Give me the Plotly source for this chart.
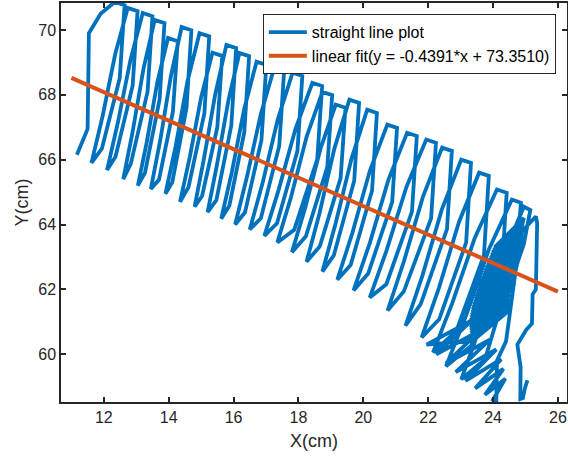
import plotly.graph_objects as go

# ---- path of the drawn "straight line" (cm) ----
# each loop: bottom, up-stroke knees, peak, top-right, down-stroke knees
loops_x = [
    11.17, 11.50, 11.54, 11.90, 12.34, 12.64, 12.49, 11.94,
    11.62, 11.96, 12.35, 12.74, 13.04, 12.89, 12.36,
    12.10, 12.43, 12.82, 13.20, 13.50, 13.35, 12.83,
    12.60, 12.89, 13.23, 13.57, 13.87, 13.72, 13.27,
    13.05, 13.33, 13.65, 13.98, 14.28, 14.13, 13.70,
    13.45, 13.74, 14.07, 14.40, 14.70, 14.55, 14.11,
    13.90, 14.22, 14.58, 14.95, 15.25, 15.10, 14.61,
    14.35, 14.65, 15.00, 15.35, 15.65, 15.50, 15.03,
    14.80, 15.09, 15.44, 15.78, 16.08, 15.93, 15.47,
    15.20, 15.49, 15.84, 16.18, 16.48, 16.33, 15.87,
    15.62, 15.95, 16.33, 16.71, 17.01, 16.86, 16.35,
    16.05, 16.41, 16.84, 17.26, 17.56, 17.41, 16.84,
    16.50, 16.90, 17.36, 17.82, 18.12, 17.97, 17.34,
    16.95, 17.39, 17.91, 18.43, 18.73, 18.58, 17.87,
    17.35, 17.77, 18.25, 18.74, 19.04, 18.89, 18.23,
    17.80, 18.21, 18.68, 19.15, 19.45, 19.30, 18.66,
    18.25, 18.65, 19.11, 19.57, 19.87, 19.72, 19.09,
    18.74, 19.15, 19.64, 20.12, 20.42, 20.27, 19.61,
    19.20, 19.66, 20.20, 20.74, 21.04, 20.89, 20.15,
    19.70, 20.20, 20.77, 21.35, 21.65, 21.50, 20.71,
    20.20, 20.72, 21.33, 21.94, 22.24, 22.09, 21.25,
    20.75, 21.25, 21.84, 22.43, 22.73, 22.58, 21.77,
    21.30, 21.82, 22.42, 23.02, 23.32, 23.17, 22.34,
    21.80, 22.33, 22.95, 23.57, 23.87, 23.72, 22.87,
    22.15, 22.74, 23.43, 24.12, 24.42, 24.27, 23.32,
    22.55, 23.16, 23.87, 24.58, 24.86, 24.73, 23.75,
    23.02, 23.60, 24.27, 24.95, 25.15, 24.95, 24.30,
]
loops_y = [
    66.15, 66.95, 69.90, 70.50, 70.86, 70.76, 68.51, 66.34,
    65.90, 67.33, 69.25, 70.68, 70.58, 68.29, 66.09,
    65.68, 67.13, 69.07, 70.52, 70.42, 68.10, 65.87,
    65.40, 66.87, 68.84, 70.31, 70.21, 67.86, 65.60,
    65.20, 66.57, 68.39, 69.75, 69.65, 67.48, 65.38,
    65.10, 66.60, 68.59, 70.09, 69.99, 67.60, 65.30,
    64.95, 66.44, 68.42, 69.90, 69.80, 67.43, 65.15,
    64.70, 66.08, 67.92, 69.30, 69.20, 67.00, 64.88,
    64.55, 66.05, 68.04, 69.54, 69.44, 67.05, 64.75,
    64.38, 65.85, 67.82, 69.29, 69.19, 66.84, 64.58,
    64.18, 65.63, 67.57, 69.02, 68.92, 66.60, 64.37,
    64.00, 65.46, 67.40, 68.86, 68.76, 66.43, 64.19,
    63.85, 65.30, 67.23, 68.68, 68.58, 66.27, 64.04,
    63.65, 65.07, 66.95, 68.37, 68.27, 66.01, 63.84,
    63.45, 64.84, 66.70, 68.09, 67.99, 65.77, 63.64,
    63.15, 64.52, 66.34, 67.70, 67.60, 65.43, 63.33,
    62.85, 64.35, 66.35, 67.85, 67.75, 65.35, 63.05,
    62.55, 64.05, 66.04, 67.54, 67.44, 65.05, 62.75,
    62.30, 63.73, 65.65, 67.08, 66.98, 64.69, 62.49,
    61.97, 63.43, 65.37, 66.83, 66.73, 64.40, 62.16,
    61.75, 63.21, 65.16, 66.62, 66.52, 64.19, 61.94,
    61.35, 62.86, 64.86, 66.37, 66.27, 63.86, 61.55,
    60.88, 62.42, 64.46, 66.00, 65.90, 63.44, 61.08,
    60.52, 62.04, 64.08, 65.60, 65.50, 63.06, 60.72,
    60.06, 61.57, 63.57, 65.08, 64.98, 62.57, 60.26,
    59.63, 61.17, 63.23, 64.77, 64.67, 63.10, 59.84,
    59.23, 60.83, 62.95, 64.55, 64.45, 63.40, 61.50,
]
# dense scribble near the right end (alternating right / left ends of strokes)
blob_x = [
    24.95, 24.05, 24.94, 24.02, 24.93, 23.98, 24.91, 23.95, 24.90, 23.92,
    24.89, 23.88, 24.88, 23.85, 24.87, 23.82, 24.86, 23.78, 24.85, 23.75,
    24.84, 23.72, 24.83, 23.69, 24.82, 23.66, 24.81, 23.62, 24.80, 23.59,
    24.80, 23.56, 24.79, 23.54, 24.78, 23.51, 24.77, 23.49, 24.75, 23.46,
    24.72, 23.44, 24.69, 23.42, 24.66, 23.39, 24.64, 23.37, 24.62, 23.35,
    24.60, 23.34, 24.58, 23.32, 24.56, 23.31, 24.54, 23.30, 24.53, 23.29,
    24.52, 23.28, 24.51, 23.29, 24.50, 23.30, 24.49, 23.31, 24.48, 23.33,
    24.47, 23.35, 24.46, 23.38,
]
blob_y = [
    64.20, 63.30, 64.12, 63.22, 64.04, 63.14, 63.96, 63.06, 63.88, 62.98,
    63.80, 62.90, 63.72, 62.82, 63.64, 62.74, 63.56, 62.66, 63.48, 62.58,
    63.40, 62.50, 63.32, 62.42, 63.24, 62.34, 63.16, 62.26, 63.08, 62.18,
    63.00, 62.10, 62.92, 62.02, 62.84, 61.94, 62.76, 61.86, 62.68, 61.78,
    62.60, 61.70, 62.52, 61.62, 62.44, 61.54, 62.36, 61.46, 62.28, 61.38,
    62.20, 61.30, 62.12, 61.22, 62.04, 61.14, 61.96, 61.06, 61.88, 60.98,
    61.80, 60.90, 61.72, 60.82, 61.64, 60.74, 61.56, 60.66, 61.48, 60.58,
    61.40, 60.50, 61.32, 60.42,
]
# lower-right hatching, right edge and tail
tail_x = [21.95, 23.35, 22.25, 23.62, 22.55, 23.90, 22.85, 24.10, 23.15, 24.25,
          23.45, 24.32, 23.75, 24.38, 24.00, 24.10, 24.12, 24.40, 24.55, 24.70,
          24.90, 25.32, 25.36, 25.32, 25.22, 25.20, 25.02, 24.75, 24.85, 24.84,
          24.92, 24.98, 25.06]
tail_y = [60.30, 61.05, 60.00, 60.75, 59.72, 60.45, 59.45, 60.15, 59.18, 59.85,
          58.95, 59.55, 58.75, 59.25, 58.60, 58.55, 59.80, 60.40, 61.50, 62.60,
          63.80, 64.25, 64.05, 62.00, 61.85, 60.95, 60.75, 60.30, 59.60, 58.62,
          58.65, 58.95, 59.20]

# ---- linear fit shown in the legend ----
fit_slope = -0.4391
fit_intercept = 73.3510
fit_x = [11.0, 26.0]

x_ticks = [12, 14, 16, 18, 20, 22, 24, 26]
y_ticks = [60, 62, 64, 66, 68, 70]

path_x = loops_x + blob_x + tail_x
path_y = loops_y + blob_y + tail_y
fit_y = [fit_slope * v + fit_intercept for v in fit_x]

BLUE = "#0072BD"
ORANGE = "#D95319"
AX = "#262626"
FONT = "Liberation Sans, Arial, sans-serif"

fig = go.Figure()
fig.add_trace(go.Scatter(x=path_x, y=path_y, mode="lines",
                         line=dict(color=BLUE, width=3.8),
                         name="straight line plot"))
fig.add_trace(go.Scatter(x=fit_x, y=fit_y, mode="lines",
                         line=dict(color=ORANGE, width=4),
                         name="linear fit(y = -0.4391*x + 73.3510)"))

axis_common = dict(showline=True, linecolor=AX, linewidth=1.5, mirror="ticks",
                   ticks="inside", ticklen=5, tickwidth=1.5, tickcolor=AX,
                   showgrid=False, zeroline=False, automargin=False,
                   tickfont=dict(family=FONT, size=16, color=AX),
                   title_font=dict(family=FONT, size=18, color=AX))

fig.update_xaxes(range=[10.68, 26.28], tickvals=x_ticks, title_text="X(cm)",
                 title_standoff=9, **axis_common)
fig.update_yaxes(range=[58.53, 70.83], tickvals=y_ticks, title_text="Y(cm)",
                 title_standoff=5, **axis_common)

fig.update_layout(
    width=568, height=457,
    margin=dict(l=61, r=1, t=3, b=55),
    paper_bgcolor="white", plot_bgcolor="white",
    showlegend=True,
    legend=dict(x=0.978, y=0.972, xanchor="right", yanchor="top",
                bgcolor="white", bordercolor=AX, borderwidth=1,
                font=dict(family=FONT, size=16, color="black"),
                tracegroupgap=0, itemwidth=38),
)

fig.write_html("out.html",
               config={"displayModeBar": False},
               post_script="document.body.style.margin='0';"
                           "document.body.style.padding='0';")
